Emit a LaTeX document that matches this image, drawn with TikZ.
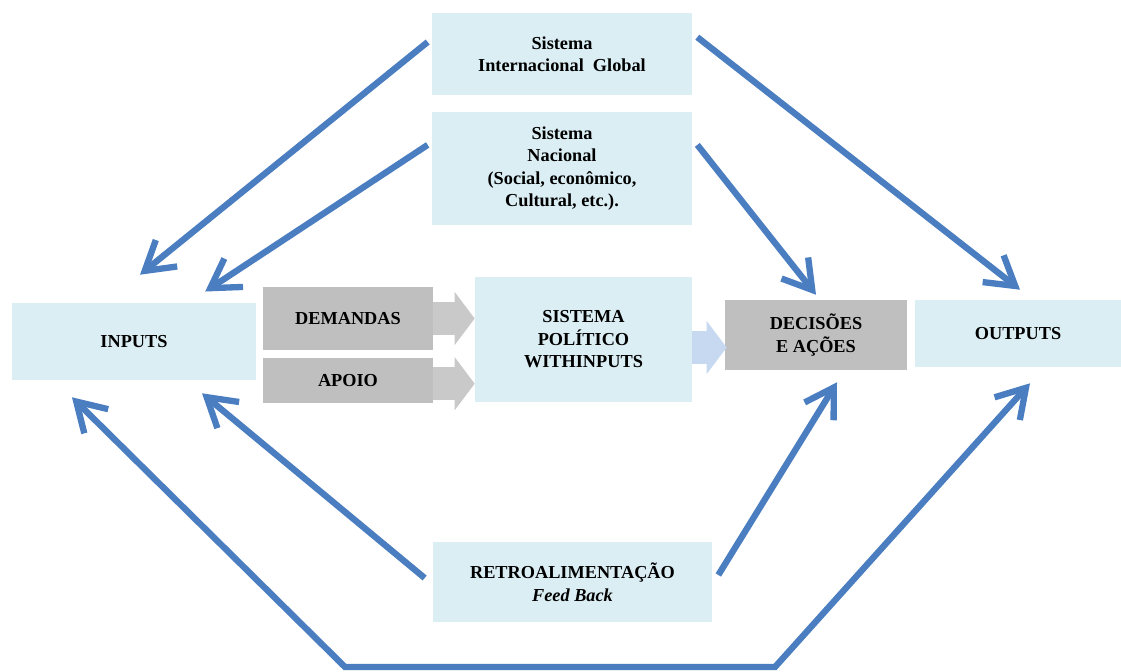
\documentclass[tikz,border=0pt]{standalone}
\usepackage{fontspec}
\setmainfont{Liberation Serif}
\usetikzlibrary{arrows.meta}
\definecolor{azulclaro}{RGB}{219,238,244}
\definecolor{cinzaescuro}{RGB}{191,191,191}
\definecolor{cinzaclaro}{RGB}{201,201,201}
\definecolor{azulseta}{RGB}{198,217,241}
\definecolor{azul}{RGB}{74,126,193}
\begin{document}
\begin{tikzpicture}[x=0.025cm,y=-0.025cm,
		caixa/.style={fill=azulclaro,align=center,inner sep=2pt,
			font=\fontsize{13}{16}\selectfont\bfseries},
		cinza/.style={caixa,fill=cinzaescuro},
		seta/.style={draw=azul,line width=4.5pt,-{Straight Barb[length=0.7cm,width=0.85cm]}},
		bloco/.style={line width=0.825cm,-{Triangle[length=0.5cm,width=1.3cm]}}
		]
		\useasboundingbox (0,0) rectangle (1121,672);
		
		\node[caixa,minimum width=6.5cm,minimum height=2.05cm] (sig) at (562,54)
			{Sistema\\Internacional\ \ Global};
		\node[caixa,minimum width=6.5cm,minimum height=2.825cm] (sn) at (562,168.5)
			{Sistema\\Nacional\\(Social, econômico,\\Cultural, etc.).};
		\node[caixa,minimum width=6.1cm,minimum height=1.925cm] (inputs) at (134,341.5) {INPUTS};
		\node[cinza,minimum width=4.25cm,minimum height=1.575cm] (demandas) at (348,318.5) {DEMANDAS};
		\node[cinza,minimum width=4.25cm,minimum height=1.125cm] (apoio) at (348,380.5) {APOIO};
		\node[caixa,minimum width=5.425cm,minimum height=3.125cm] (politico) at (583.5,339.5)
			{SISTEMA\\POLÍTICO\\WITHINPUTS};
		\node[cinza,minimum width=4.55cm,minimum height=1.75cm] (decisoes) at (816,335)
			{DECISÕES\\E AÇÕES};
		\node[caixa,minimum width=5.15cm,minimum height=1.675cm] (outputs) at (1018,333.5) {OUTPUTS};
		\node[caixa,minimum width=6.975cm,minimum height=2cm] (retro) at (572.5,582)
			{RETROALIMENTAÇÃO\\{\itshape Feed Back}};
		
		\draw[bloco,draw=cinzaclaro] (demandas.east) -- (demandas.east -| politico.west);
		\draw[bloco,draw=cinzaclaro] ([yshift=-0.08cm]apoio.east) -- ([yshift=-0.08cm]apoio.east -| politico.west);
		\draw[bloco,draw=azulseta] ([yshift=-0.2cm]politico.east) -- ([yshift=-0.2cm,xshift=0.05cm]politico.east -| decisoes.west);
		
		\draw[seta] ([xshift=-0.1cm,yshift=0.3cm]sig.west) -- ([xshift=0.15cm,yshift=0.7cm]inputs.north);
		\draw[seta] ([xshift=-0.1cm,yshift=0.59cm]sn.west) -- ([xshift=1.78cm,yshift=0.28cm]inputs.north);
		\draw[seta] ([xshift=0.125cm,yshift=0.42cm]sig.east) -- ([xshift=0.05cm,yshift=0.25cm]outputs.north);
		\draw[seta] ([xshift=0.125cm,yshift=0.59cm]sn.east) -- ([yshift=0.125cm]decisoes.north);
		\draw[seta] ([xshift=-0.2cm,yshift=0.1cm]retro.west) -- ([xshift=1.7cm,yshift=-0.325cm]inputs.south);
		\draw[seta] ([xshift=0.15cm,yshift=0.175cm]retro.east) -- ([xshift=0.525cm,yshift=-0.3cm]decisoes.south);
		
		\coordinate (dobraesq) at (345,667);
		\coordinate (dobradir) at (775,667);
		\draw[seta,{Straight Barb[length=0.7cm,width=0.85cm]}-{Straight Barb[length=0.7cm,width=0.85cm]}]
			([xshift=-1.55cm,yshift=-0.425cm]inputs.south) -- (dobraesq) -- (dobradir)
			-- ([xshift=0.3cm,yshift=-0.4cm]outputs.south);
\end{tikzpicture}
\end{document}
